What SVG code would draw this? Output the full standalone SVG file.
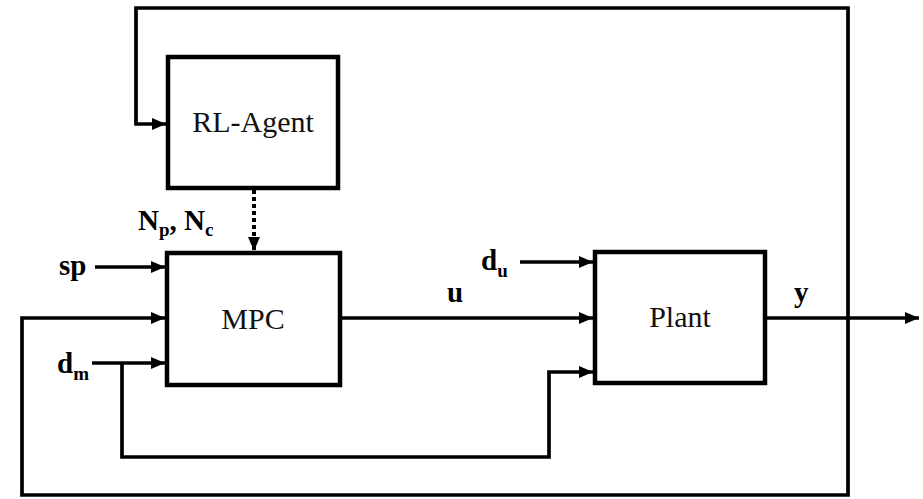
<svg xmlns="http://www.w3.org/2000/svg" width="923" height="499" viewBox="0 0 923 499">
<style>
.box{fill:#fff;stroke:#000;stroke-width:4.5}
.ln{fill:none;stroke:#000;stroke-width:3.7}
.dot{fill:none;stroke:#000;stroke-width:4;stroke-dasharray:4 3}
text{font-family:"Times New Roman","Liberation Serif","DejaVu Serif",serif}
.name{font-size:30px;fill:#111}
.lbl{font-size:29px;font-weight:bold;fill:#000}
.sub{font-size:19px}
</style>
<defs>
<marker id="ah" markerUnits="userSpaceOnUse" markerWidth="15" markerHeight="15" viewBox="0 0 15 15" refX="14" refY="7.5" orient="auto">
<path d="M0,1.5 L14,7.5 L0,13.5 Z" fill="#000"/>
</marker>
</defs>
<g id="connectors">
<path class="ln" d="M848,318 V8 H136 V124 H166" marker-end="url(#ah)"/>
<path class="dot" d="M254,190 V251" marker-end="url(#ah)"/>
<path class="ln" d="M95,267 H165" marker-end="url(#ah)"/>
<path class="ln" d="M848,318 V495 H22 V318 H165" marker-end="url(#ah)"/>
<path class="ln" d="M92,363 H165" marker-end="url(#ah)"/>
<path class="ln" d="M122,363 V457 H549 V372 H593" marker-end="url(#ah)"/>
<path class="ln" d="M340,318 H593" marker-end="url(#ah)"/>
<path class="ln" d="M520,262 H593" marker-end="url(#ah)"/>
<path class="ln" d="M765,318 H919" marker-end="url(#ah)"/>
</g>
<g id="rl-agent">
<rect class="box" x="168" y="57" width="170" height="131"/>
<text class="name" x="253" y="132" text-anchor="middle" font-family="Liberation Serif">RL-Agent</text>
</g>
<g id="mpc">
<rect class="box" x="167" y="253" width="173" height="132"/>
<text class="name" x="253" y="329" text-anchor="middle" font-family="Liberation Serif">MPC</text>
</g>
<g id="plant">
<rect class="box" x="595" y="252" width="170" height="131"/>
<text class="name" x="680" y="327" text-anchor="middle" font-family="Liberation Serif">Plant</text>
</g>
<g id="labels">
<text class="lbl" x="59" y="275">sp</text>
<text class="lbl" x="138" y="230">N<tspan class="sub" dy="6">p</tspan><tspan dy="-6">, N</tspan><tspan class="sub" dy="6">c</tspan></text>
<text class="lbl" x="57" y="373">d<tspan class="sub" dy="7">m</tspan></text>
<text class="lbl" x="481" y="270">d<tspan class="sub" dy="7">u</tspan></text>
<text class="lbl" x="447" y="302">u</text>
<text class="lbl" x="794" y="302">y</text>
</g>
</svg>
